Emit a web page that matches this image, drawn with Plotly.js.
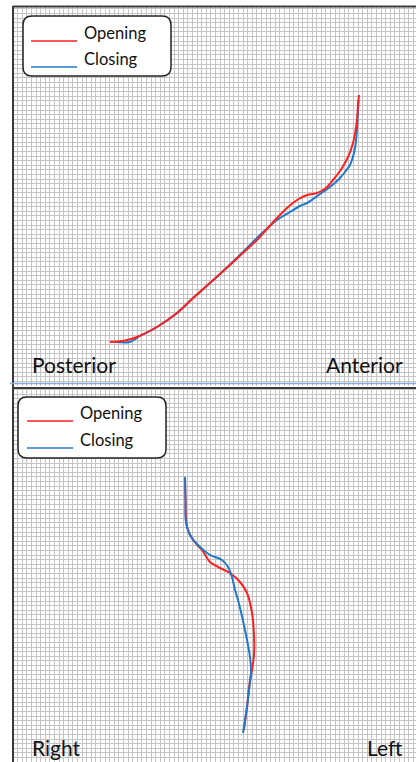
<!DOCTYPE html>
<html>
<head>
<meta charset="utf-8">
<script src="https://cdn.plot.ly/plotly-3.0.1.min.js"></script>
<style>html,body{margin:0;padding:0;background:#fff;}#chart{width:416px;height:762px;}</style>
</head>
<body>
<div id="chart"></div>
<script>
// Sagittal view (Posterior -> Anterior), position units
const sagOpenX = [97,110,124,144,164,179,207,232,244,254,264,274,284,294,304,310,314,320,327,329,335,340,344,345,346];
const sagOpenY = [44,45,49,59,73,87,112,135,146,157,168,178,186,191,193,196,199,206,215,218,229,243,266,281,291];
const sagCloseX = [102,117,127,144,164,179,207,232,247,264,277,287,294,307,317,327,332,337,339,342,344,345,345.5];
const sagCloseY = [44,44,50,59,73,87,112,136,151,166,174,180,183,192,199,208,214,221,226,238,256,276,286];
// Frontal view (Right -> Left)
const froOpenX = [172,172.5,174,180,189,197,207,217,227,234,239,241,241,239,237,234,231];
const froOpenY = [285,262,235,222,212,200,194,189,180,169,149,127,107,92,82,55,32];
const froCloseX = [172,172.5,172.7,177,187,197,209,215,219,222,225,232,237,238,236,234,230];
const froCloseY = [285,262,242,227,215,207,202,195,185,172,162,132,105,89,72,55,29];

const seriesNames = ['Opening','Closing'];
const topLabels = ['Posterior','Anterior'];
const botLabels = ['Right','Left'];

const W = 416, H = 762;
const RED = '#ff1f1f', BLUE = '#1f78cc';
const FONT = 'Lato, "Open Sans", sans-serif';
const px = x => x / W;
const py = y => 1 - y / H;

const traces = [
  {x: sagCloseX, y: sagCloseY, xaxis:'x', yaxis:'y', mode:'lines', name: seriesNames[1],
   line:{color:BLUE, width:2, shape:'spline', smoothing:0.8}},
  {x: sagOpenX, y: sagOpenY, xaxis:'x', yaxis:'y', mode:'lines', name: seriesNames[0],
   line:{color:RED, width:2, shape:'spline', smoothing:0.8}},
  {x: froOpenX, y: froOpenY, xaxis:'x2', yaxis:'y2', mode:'lines', name: seriesNames[0],
   line:{color:RED, width:2, shape:'spline', smoothing:0.8}},
  {x: froCloseX, y: froCloseY, xaxis:'x2', yaxis:'y2', mode:'lines', name: seriesNames[1],
   line:{color:BLUE, width:2, shape:'spline', smoothing:0.8}}
];

const G = 4.6;
function ax(range, domain, anchor) {
  return {range: range, domain: domain, anchor: anchor, fixedrange:true,
    showgrid:true, gridcolor:'#c4c4c4', gridwidth:1, tickmode:'linear', tick0:0, dtick:G,
    showticklabels:false, ticks:'', zeroline:false, showline:false};
}

function roundRect(x0, y0, x1, y1, r) {
  const X = v => px(v).toFixed(5), Y = v => py(v).toFixed(5);
  return 'M' + X(x0+r) + ',' + Y(y0) +
    ' L' + X(x1-r) + ',' + Y(y0) + ' Q' + X(x1) + ',' + Y(y0) + ' ' + X(x1) + ',' + Y(y0+r) +
    ' L' + X(x1) + ',' + Y(y1-r) + ' Q' + X(x1) + ',' + Y(y1) + ' ' + X(x1-r) + ',' + Y(y1) +
    ' L' + X(x0+r) + ',' + Y(y1) + ' Q' + X(x0) + ',' + Y(y1) + ' ' + X(x0) + ',' + Y(y1-r) +
    ' L' + X(x0) + ',' + Y(y0+r) + ' Q' + X(x0) + ',' + Y(y0) + ' ' + X(x0+r) + ',' + Y(y0) + ' Z';
}

function hline(x0, x1, y, color, w) {
  return {type:'line', xref:'paper', yref:'paper', x0:px(x0), x1:px(x1), y0:py(y), y1:py(y), line:{color:color, width:w}};
}
function vline(x, y0, y1, color, w) {
  return {type:'line', xref:'paper', yref:'paper', x0:px(x), x1:px(x), y0:py(y0), y1:py(y1), line:{color:color, width:w}};
}

const shapes = [
  {type:'path', xref:'paper', yref:'paper', path: roundRect(23,16,171,76,9), fillcolor:'#ffffff', line:{color:'#222', width:1.5}},
  hline(31,77,41,RED,1.6), hline(31,77,67,BLUE,1.6),
  {type:'path', xref:'paper', yref:'paper', path: roundRect(18,397,166,458,9), fillcolor:'#ffffff', line:{color:'#222', width:1.5}},
  hline(27,73,421,RED,1.6), hline(27,73,448,BLUE,1.6),
  hline(13,416,6.5,'#3a3a3a',2),
  vline(13,6,762,'#3a3a3a',2),
  hline(10,416,383.5,'#86abd6',1.5),
  hline(13,416,388,'#3a3a3a',2)
];

function txt(t, x, y, anchor, size) {
  return {text:t, xref:'paper', yref:'paper', x:px(x), y:py(y), xanchor:anchor, yanchor:'middle',
    showarrow:false, borderpad:0, font:{family:FONT, size:size, color:'#111'}};
}

const annotations = [
  txt(seriesNames[0], 83, 33, 'left', 16.5),
  txt(seriesNames[1], 83, 59, 'left', 16.5),
  txt(seriesNames[0], 79, 413, 'left', 16.5),
  txt(seriesNames[1], 79, 440, 'left', 16.5),
  txt(topLabels[0], 31, 364, 'left', 21),
  txt(topLabels[1], 404, 364, 'right', 21),
  txt(botLabels[0], 31, 747, 'left', 21),
  txt(botLabels[1], 404, 747, 'right', 21)
];

const layout = {
  width: W, height: H,
  margin: {l:0, r:0, t:0, b:0, pad:0},
  paper_bgcolor:'#ffffff', plot_bgcolor:'#ffffff',
  showlegend:false,
  xaxis: ax([0,403], [13/W, 1], 'y'),
  yaxis: ax([0,380], [(H-386)/H, (H-6)/H], 'x'),
  xaxis2: ax([0,403], [13/W, 1], 'y2'),
  yaxis2: ax([0,374], [0, (H-388)/H], 'x2'),
  shapes: shapes,
  annotations: annotations
};

Plotly.newPlot('chart', traces, layout, {staticPlot:true, displayModeBar:false});
</script>
</body>
</html>
